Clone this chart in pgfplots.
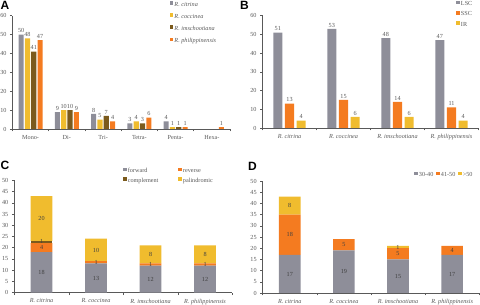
\documentclass[border=0pt]{standalone}
\usepackage{fontspec}
\setmainfont{Liberation Serif}
\newfontfamily\panelfont{Liberation Sans}
\usepackage{pgfplots}
\pgfplotsset{compat=1.18}
\definecolor{cgray}{HTML}{8E8E99}
\definecolor{cyel}{HTML}{F0BC2E}
\definecolor{colive}{HTML}{7B5A1C}
\definecolor{corange}{HTML}{F47B20}
\definecolor{txt}{HTML}{595959}
\definecolor{axc}{HTML}{595959}
\newcommand\fs{\fontsize{6.2}{7}\selectfont}
\pgfplotsset{
  panel/.style={
    scale only axis, anchor=south west,
    axis lines*=left, axis line style={-, draw=axc, line width=0.6pt},
    ymin=0, xmin=-0.5, enlarge x limits=false, enlarge y limits=false,
    tick align=outside, major tick length=2.5pt,
    tick style={draw=axc, line width=0.5pt},
    ticklabel style={font=\fs, text=txt},
    /pgf/number format/assume math mode=true,
    x tick label as interval,
    legend style={draw=none, fill=none, font=\fs, text=txt, inner sep=0pt, outer sep=0pt,
      nodes={inner sep=1pt, text height=4.5pt, text depth=1.5pt}},
    legend cell align=left,
  },
  sqleg/.style={legend image code/.code={\fill[##1, draw=none] (0pt,-0.25pt) rectangle (3.5pt,3.25pt);}},
  lab/.style={nodes near coords, every node near coord/.append style={font=\fs, text=txt, inner sep=1.5pt}},
  over/.style={scale only axis, anchor=south west, hide axis, xmin=-0.5, ymin=0, enlarge x limits=false, enlarge y limits=false},
  inlab/.style={draw=none, mark=none, nodes near coords, point meta=explicit symbolic,
    every node near coord/.style={anchor=center, font=\fs, text=black!75}},
}
\begin{document}
\begin{tikzpicture}
\useasboundingbox (0,0) rectangle (480pt,305pt);
% ---------------- A ----------------
\begin{axis}[panel, at={(12.5pt,176pt)}, width=217.5pt, height=113.3pt,
  ymax=60, ytick={0,10,...,60}, xmax=5.5,
  xtick={-0.5,0.5,1.5,2.5,3.5,4.5,5.5},
  xticklabels={Mono-,Di-,Tri-,Tetra-,Penta-,Hexa-},
  ybar, bar width=0.142, sqleg,
  legend style={at={(0.724,1.134)}, anchor=north west, row sep=4.1pt,
    font=\fs\itshape}]
\addplot[fill=cgray, draw=none, bar shift=-0.261, lab] coordinates {(0,50) (1,9) (2,8) (3,3) (4,4)};
\addplot[fill=cyel, draw=none, bar shift=-0.087, lab] coordinates {(0,48) (1,10) (2,5) (3,4) (4,1)};
\addplot[fill=colive, draw=none, bar shift=0.087, lab] coordinates {(0,41) (1,10) (2,7) (3,3) (4,1)};
\addplot[fill=corange, draw=none, bar shift=0.261, lab] coordinates {(0,47) (1,9) (2,4) (3,6) (4,1) (5,1)};
\legend{R. citrina, R. coccinea, R. imschootiana, R. philippinensis}
\end{axis}
% ---------------- B ----------------
\begin{axis}[panel, at={(262.5pt,177pt)}, width=216pt, height=112.3pt,
  ymax=60, ytick={0,10,...,60}, xmax=3.5,
  xtick={-0.5,0.5,1.5,2.5,3.5},
  xticklabels={R. citrina, R. coccinea, R. imschootiana, R. philippinensis},
  x tick label style={font=\fs\itshape},
  ybar, bar width=0.167, sqleg,
  legend style={at={(0.898,1.14)}, anchor=north west, row sep=2.3pt}]
\addplot[fill=cgray, draw=none, bar shift=-0.216, lab] coordinates {(0,51) (1,53) (2,48) (3,47)};
\addplot[fill=corange, draw=none, bar shift=0, lab] coordinates {(0,13) (1,15) (2,14) (3,11)};
\addplot[fill=cyel, draw=none, bar shift=0.216, lab] coordinates {(0,4) (1,6) (2,6) (3,4)};
\legend{LSC, SSC, IR}
\end{axis}
% ---------------- C ----------------
\begin{axis}[panel, at={(14.3pt,12.3pt)}, width=218pt, height=112.4pt,
  ymax=50, ytick={0,5,...,50}, xmax=3.5,
  xtick={-0.5,0.5,1.5,2.5,3.5},
  xticklabels={R. citrina, R. coccinea, R. imschootiana, R. philippinensis},
  x tick label style={font=\fs\itshape},
  ybar stacked, bar width=0.4, sqleg,
  legend columns=2,
  legend style={at={(0.5,1.118)}, anchor=north west, row sep=1.7pt,
    /tikz/every even column/.append style={column sep=19pt}}]
\addplot[fill=cgray, draw=none] coordinates {(0,18) (1,13) (2,12) (3,12)};
\addplot[fill=corange, draw=none] coordinates {(0,4) (1,1) (2,1) (3,1)};
\addplot[fill=colive, draw=none] coordinates {(0,1) (1,0) (2,0) (3,0)};
\addplot[fill=cyel, draw=none] coordinates {(0,20) (1,10) (2,8) (3,8)};
\legend{forward, reverse, complement, palindromic}
\end{axis}
\begin{axis}[over, at={(14.3pt,12.3pt)}, width=218pt, height=112.4pt, xmax=3.5, ymax=50]
\addplot[inlab] coordinates {(0,9) [18] (0,20) [4] (0,22.6) [1] (0,33) [20]
  (1,6.5) [13] (1,13.5) [1] (1,19) [10]
  (2,6) [12] (2,12.5) [1] (2,17) [8]
  (3,6) [12] (3,12.5) [1] (3,17) [8]};
\end{axis}
% ---------------- D ----------------
\begin{axis}[panel, at={(262.7pt,12pt)}, width=216.5pt, height=112pt,
  ymax=50, ytick={0,5,...,50}, xmax=3.5,
  xtick={-0.5,0.5,1.5,2.5,3.5},
  xticklabels={R. citrina, R. coccinea, R. imschootiana, R. philippinensis},
  x tick label style={font=\fs\itshape},
  ybar stacked, bar width=0.4, sqleg,
  legend columns=3,
  legend style={at={(0.974,1.089)}, anchor=north east,
    /tikz/every even column/.append style={column sep=2pt}}]
\addplot[fill=cgray, draw=none] coordinates {(0,17) (1,19) (2,15) (3,17)};
\addplot[fill=corange, draw=none] coordinates {(0,18) (1,5) (2,5) (3,4)};
\addplot[fill=cyel, draw=none] coordinates {(0,8) (1,0) (2,1) (3,0)};
\legend{30-40, 41-50, >50}
\end{axis}
\begin{axis}[over, at={(262.7pt,12pt)}, width=216.5pt, height=112pt, xmax=3.5, ymax=50]
\addplot[inlab] coordinates {(0,8.5) [17] (0,26) [18] (0,39) [8]
  (1,9.5) [19] (1,21.5) [5]
  (2,7.5) [15] (2,17.5) [5] (2,20.5) [1]
  (3,8.5) [17] (3,19) [4]};
\end{axis}
% panel letters
\node[font=\panelfont\bfseries\fontsize{12}{12}\selectfont, inner sep=0pt] at (5pt,299.5pt) {A};
\node[font=\panelfont\bfseries\fontsize{12}{12}\selectfont, inner sep=0pt] at (244.5pt,300pt) {B};
\node[font=\panelfont\bfseries\fontsize{12}{12}\selectfont, inner sep=0pt] at (5pt,139.5pt) {C};
\node[font=\panelfont\bfseries\fontsize{12}{12}\selectfont, inner sep=0pt] at (252.5pt,138.5pt) {D};
\end{tikzpicture}
\end{document}
